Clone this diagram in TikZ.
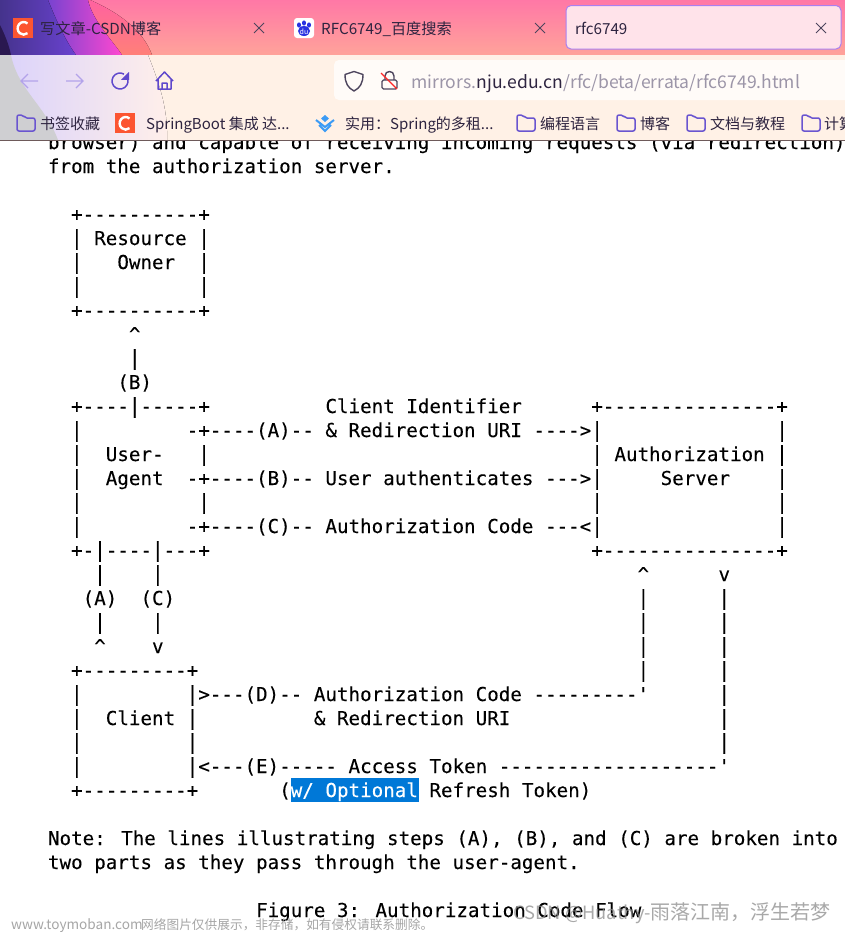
\documentclass[tikz,border=0pt]{standalone}
\usepackage{fontspec}
\usepackage{graphicx}
\newfontfamily\monof[FakeBold=0.12]{DejaVu Sans Mono}
\newfontfamily\cjkf{Noto Sans CJK SC}
\newcommand{\VB}{\scalebox{1}[1.08]{\char`\|}}
\catcode`\|=\active \def|{\VB}\catcode`\|=12
\AtBeginDocument{\catcode`\|=\active}
\definecolor{ink}{HTML}{2E2440}
\definecolor{urlgray}{HTML}{9C95A8}
\definecolor{folder}{HTML}{6A55D0}
\definecolor{csdn}{HTML}{FC5531}
\definecolor{selblue}{HTML}{0078D7}
\definecolor{tabtop}{HTML}{FF78A6}
\definecolor{tabbot}{HTML}{FFA39A}
\definecolor{blobpinka}{HTML}{FF62A0}
\definecolor{blobpinkb}{HTML}{FF8078}
\definecolor{blobmag}{HTML}{FF48D0}
\definecolor{purpa}{HTML}{45338C}
\definecolor{purpb}{HTML}{6A42D0}
\definecolor{darkcorner}{HTML}{2A1850}
\definecolor{peach}{HTML}{FFF1E6}
\definecolor{veila}{HTML}{DAD2FB}
\definecolor{veilb}{HTML}{F2D8F5}
\definecolor{veilc}{HTML}{FFEFEA}
\definecolor{grayveil}{HTML}{CFCFD2}
\definecolor{urlbg}{HTML}{FFFBF8}
\definecolor{activetab}{HTML}{FFE3EA}
\definecolor{activeedge}{HTML}{A880F0}
\definecolor{navfaint}{HTML}{B3A3EA}
\definecolor{navstrong}{HTML}{5F48CC}
\definecolor{baidu}{HTML}{2932E1}
\definecolor{chev}{HTML}{3B9BF5}
\definecolor{rule}{HTML}{6E5A5A}
\tikzset{
  mono/.style={anchor=base west,inner sep=0pt,outer sep=0pt,font=\monof\fontsize{19.2}{24}\selectfont,text=black},
  tabtext/.style={anchor=base west,inner sep=0pt,font=\cjkf\fontsize{15.2}{18}\selectfont,text=ink},
  marktext/.style={anchor=base west,inner sep=0pt,font=\cjkf\fontsize{15}{18}\selectfont,text=ink},
  urltext/.style={anchor=base west,inner sep=0pt,font=\cjkf\fontsize{17.55}{22}\selectfont},
  icon/.style={line width=1.5pt,draw=folder,line join=round,line cap=round},
  closex/.style={line width=1pt,draw=ink!85},
}
\newcommand{\ML}[4]{\node[mono] (#1) at ({48+#2*11.56},#3) {#4};}
\newcommand{\clogo}[2]{%
  \fill[csdn] (#1,#2) rectangle ++(20,20);
  \draw[white,line width=2.4pt] ({#1+14.5},{#2+5.5}) arc[start angle=-50,end angle=-310,x radius=6,y radius=6.3];}
\newcommand{\folderic}[2]{%
  \draw[icon,rounded corners=2pt] (#1,{#2+16}) -- (#1,#2) -- ({#1+6},#2) -- ({#1+8},{#2+3}) -- ({#1+18},{#2+3}) -- ({#1+18},{#2+16}) -- cycle;}
\newcommand{\closeic}[2]{%
  \draw[closex] ({#1-5},{#2-5}) -- ({#1+5},{#2+5}) ({#1-5},{#2+5}) -- ({#1+5},{#2-5});}
\begin{document}
\begin{tikzpicture}[x=1pt,y=-1pt]
\useasboundingbox (0,0) rectangle (845,932);
\fill[white] (0,0) rectangle (845,932);
% ---- page text
\ML{l0}{0}{149}{browser) and capable of receiving incoming requests (via redirection)}
\ML{l1}{0}{173}{from the authorization server.}
\ML{a1}{2}{221}{+----------+}
\ML{a2a}{2}{245}{|}\ML{a2b}{4}{245}{Resource}\ML{a2c}{13}{245}{|}
\ML{a3a}{2}{269}{|}\ML{a3b}{6}{269}{Owner}\ML{a3c}{13}{269}{|}
\ML{a4a}{2}{293}{|}\ML{a4c}{13}{293}{|}
\ML{a5}{2}{317}{+----------+}
\ML{a6}{7}{341}{\char`\^}
\ML{a7}{7}{365}{|}
\ML{a8}{6}{389}{(B)}
\ML{b1a}{2}{413}{+----|-----+}\ML{b1b}{24}{413}{Client Identifier}\ML{b1c}{47}{413}{+---------------+}
\ML{b2a}{2}{437}{|}\ML{b2b}{12}{437}{-+----(A)-- \& Redirection URI ---->|}\ML{b2c}{63}{437}{|}
\ML{b3a}{2}{461}{|}\ML{b3b}{5}{461}{User-}\ML{b3c}{13}{461}{|}\ML{b3d}{47}{461}{| Authorization |}
\ML{b4a}{2}{485}{|}\ML{b4b}{5}{485}{Agent}\ML{b4c}{12}{485}{-+----(B)-- User authenticates --->|}\ML{b4d}{53}{485}{Server}\ML{b4e}{63}{485}{|}
\ML{b5a}{2}{509}{|}\ML{b5b}{13}{509}{|}\ML{b5c}{47}{509}{|}\ML{b5d}{63}{509}{|}
\ML{b6a}{2}{533}{|}\ML{b6b}{12}{533}{-+----(C)-- Authorization Code ---<|}\ML{b6c}{63}{533}{|}
\ML{b7a}{2}{557}{+-|----|---+}\ML{b7b}{47}{557}{+---------------+}
\ML{c1a}{4}{581}{|}\ML{c1b}{9}{581}{|}\ML{c1c}{51}{581}{\char`\^}\ML{c1d}{58}{581}{v}
\ML{c2a}{3}{605}{(A)}\ML{c2b}{8}{605}{(C)}\ML{c2c}{51}{605}{|}\ML{c2d}{58}{605}{|}
\ML{c3a}{4}{629}{|}\ML{c3b}{9}{629}{|}\ML{c3c}{51}{629}{|}\ML{c3d}{58}{629}{|}
\ML{c4a}{4}{653}{\char`\^}\ML{c4b}{9}{653}{v}\ML{c4c}{51}{653}{|}\ML{c4d}{58}{653}{|}
\ML{d1a}{2}{677}{+---------+}\ML{d1b}{51}{677}{|}\ML{d1c}{58}{677}{|}
\ML{d2a}{2}{701}{|}\ML{d2b}{12}{701}{|>---(D)-- Authorization Code ---------'}\ML{d2c}{58}{701}{|}
\ML{d3a}{2}{725}{|}\ML{d3b}{5}{725}{Client}\ML{d3c}{12}{725}{|}\ML{d3d}{23}{725}{\& Redirection URI}\ML{d3e}{58}{725}{|}
\ML{d4a}{2}{749}{|}\ML{d4b}{12}{749}{|}\ML{d4c}{58}{749}{|}
\ML{d5a}{2}{773}{|}\ML{d5b}{12}{773}{|<---(E)----- Access Token -------------------'}
\fill[selblue] (291,778) rectangle (419,802);
\ML{d6a}{2}{797}{+---------+}\ML{d6b}{20}{797}{(}
\node[mono,text=white] (d6c) at ({48+21*11.56},797) {w/ Optional};
\ML{d6d}{33}{797}{Refresh Token)}
\ML{n1}{0}{845}{Note: The lines illustrating steps (A), (B), and (C) are broken into}
\ML{n2}{0}{869}{two parts as they pass through the user-agent.}
\ML{fig}{18}{917}{Figure 3: Authorization Code Flow}
% ---- tab strip
\fill[top color=tabtop,bottom color=tabbot] (0,0) rectangle (845,55);
\fill[top color=blobpinka,bottom color=blobpinkb] (0,0) -- (90,0) .. controls (125,15) and (145,35) .. (152,55) -- (0,55) -- cycle;
\fill[left color=purpb,right color=blobmag] (40,0) -- (88,0) .. controls (92,20) and (112,40) .. (122,55) -- (40,55) -- cycle;
\fill[left color=purpa,right color=purpb] (0,0) -- (48,0) .. controls (56,20) and (65,40) .. (76,55) -- (0,55) -- cycle;
\fill[darkcorner] (0,25) .. controls (5,35) and (9,45) .. (11,55) -- (0,55) -- cycle;
% ---- toolbar
\fill[peach] (0,55) rectangle (845,140);
\fill[left color=veila,middle color=veilb,right color=veilc] (0,55) -- (148,55) .. controls (160,85) and (168,110) .. (167,140) -- (0,140) -- cycle;
\fill[grayveil] (0,55) -- (11,55) .. controls (18,90) and (45,105) .. (58,140) -- (0,140) -- cycle;
\draw[rule,line width=1pt] (0,140) -- (845,140);
\fill[urlbg,rounded corners=5pt] (334,60) rectangle (860,100);
\fill[activetab,draw=activeedge,line width=1pt,rounded corners=5pt] (566,5.5) rectangle (841,49);
% tabs
\clogo{13}{18}
\node[tabtext] (tab1) at (40,34) {写文章-CSDN博客};
\closeic{259}{28}
\fill[white,rounded corners=3pt] (294,18) rectangle (314,38);
\foreach \px/\py in {299/25,304/23,309/25}{\fill[baidu] (\px,\py) ellipse[x radius=2,y radius=2.6];}
\fill[baidu] (304,31) ellipse[x radius=6,y radius=5];
\node[anchor=center,inner sep=0pt,font=\cjkf\fontsize{7}{7}\selectfont,text=white] (du) at (304,32) {du};
\node[tabtext] (tab2) at (321,34) {RFC6749\_百度搜索};
\closeic{540}{28}
\node[tabtext] (tab3) at (575,34) {rfc6749};
\closeic{821}{28}
% nav
\draw[navfaint,line width=1.2pt] (38,81) -- (21,81) (28,74) -- (21,81) -- (28,88);
\draw[navfaint,line width=1.2pt] (66,81) -- (83,81) (76,74) -- (83,81) -- (76,88);
\draw[navstrong,line width=1.5pt] (120,81) ++(-60:8) arc[start angle=-60,end angle=-370,radius=8];
\fill[navstrong] (121,79.8) -- (129,79.8) -- (129,72) -- cycle;
\draw[navstrong,line width=1.5pt,line join=round] (156,81) -- (164.5,72) -- (173,81) (158,79) -- (158,89) -- (171,89) -- (171,79) (162,89) -- (162,83) -- (167,83) -- (167,89);
% shield, lock
\draw[ink!85,line width=1.4pt,line join=round] (354,71.5) -- (363,74.5) .. controls (363,83) and (360,88) .. (354,91) .. controls (348,88) and (345,83) .. (345,74.5) -- cycle;
\draw[ink!85,line width=1.4pt,rounded corners=1.5pt] (382,80) rectangle (397,89);
\draw[ink!85,line width=1.4pt] (385,80) -- (385,76) .. controls (385,70) and (394,70) .. (394,76) -- (394,80);
\draw[red!80!pink,line width=1.3pt] (381,73) -- (397,89);
% url
\node[urltext,text=urlgray] (url1) at (411,88.5) {mirrors.};
\node[urltext,text=ink,anchor=base west] (url2) at (url1.base east) {nju.edu.cn};
\node[urltext,text=urlgray,anchor=base west] (url3) at (url2.base east) {/rfc/beta/errata/rfc6749.html};
% bookmarks
\folderic{17}{115}
\node[marktext] (bm1) at (40,129) {书签收藏};
\clogo{115}{113}
\node[marktext] (bm2) at (146,129) {SpringBoot 集成 达...};
\draw[chev,line width=2pt] (316,120) -- (325,127) -- (334,120) (319,125) -- (325,131) -- (331,125);
\fill[chev] (325,115) -- (329,118.5) -- (325,122) -- (321,118.5) -- cycle;
\node[marktext] (bm3) at (345,129) {实用：Spring的多租...};
\folderic{517}{115}
\node[marktext] (bm4) at (540,129) {编程语言};
\folderic{617}{115}
\node[marktext] (bm5) at (640,129) {博客};
\folderic{687}{115}
\node[marktext] (bm6) at (710,129) {文档与教程};
\folderic{802}{115}
\begin{scope}
\clip (0,0) rectangle (845,140);
\node[marktext] (bm7) at (824,129) {计算};
\end{scope}
% watermarks
\node[anchor=base west,inner sep=0pt,font=\cjkf\fontsize{12.7}{14}\selectfont,text=black!35] (wm1) at (11,929) {\makebox[130pt][l]{\fontsize{13.6}{14}\selectfont www.toymoban.com}网络图片仅供展示，非存储，如有侵权请联系删除。};
\node[anchor=base west,inner sep=0pt,font=\cjkf\fontsize{20}{24}\selectfont,text=black!45,opacity=.75] (wm2) at (513,919) {{\fontsize{18.3}{24}\selectfont CSDN @Huathy-}雨落江南，浮生若梦};
\end{tikzpicture}
\end{document}
